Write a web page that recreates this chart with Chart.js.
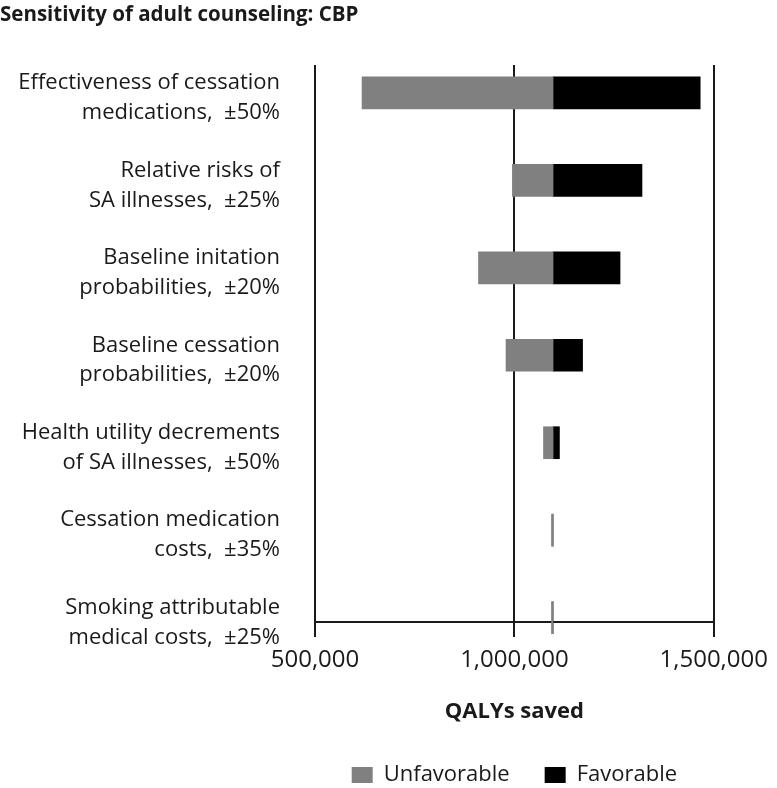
<!DOCTYPE html>
<html>
<head>
<meta charset="utf-8">
<script src="https://cdn.jsdelivr.net/npm/chart.js@4"></script>
<style>
  html, body { margin: 0; padding: 0; background: #fff; }
</style>
</head>
<body>
<canvas id="tornado" width="777" height="788"></canvas>
<script>
// categories, top to bottom
const labels = [
    ["Effectiveness of cessation", "medications,  \u00B150%"],
    ["Relative risks of", "SA illnesses,  \u00B125%"],
    ["Baseline initation", "probabilities,  \u00B120%"],
    ["Baseline cessation", "probabilities,  \u00B120%"],
    ["Health utility decrements", "of SA illnesses,  \u00B150%"],
    ["Cessation medication", "costs,  \u00B135%"],
    ["Smoking attributable", "medical costs,  \u00B125%"]
];

// QALYs saved
const baseValue = 1097000;
const lowValues  = [618000, 995000, 910000, 979000, 1073000, 1093000, 1093000];
const highValues = [1466000, 1320000, 1265000, 1171000, 1113000, 1097000, 1097000];
const xTicks = [500000, 1000000, 1500000];

Chart.defaults.font.family = "'Open Sans', sans-serif";
Chart.defaults.color = "#1a1a1a";

new Chart(document.getElementById("tornado"), {
    type: "bar",
    data: {
        datasets: [{
            label: "Unfavorable",
            data: lowValues.map((v, i) => ({ x: [v, baseValue], y: i })),
            backgroundColor: "#808080",
            borderWidth: 0,
            clip: false
        }, {
            label: "Favorable",
            data: highValues.map((v, i) => ({ x: [baseValue, v], y: i })),
            backgroundColor: "#000000",
            borderWidth: 0,
            clip: false
        }]
    },
    options: {
        indexAxis: "y",
        responsive: false,
        animation: false,
        layout: { padding: { left: 0, right: 63, top: 0, bottom: -8 } },
        datasets: { bar: { grouped: false, barThickness: 32 } },
        scales: {
            x: {
                type: "linear",
                min: xTicks[0],
                max: xTicks[xTicks.length - 1],
                afterBuildTicks: s => { s.ticks = xTicks.map(v => ({ value: v })); },
                ticks: {
                    font: { size: 24 },
                    color: "#1a1a1a",
                    padding: 9,
                    maxRotation: 0,
                    callback: v => v.toLocaleString("en-US")
                },
                grid: { color: "#1a1a1a", lineWidth: 2, tickLength: 15 },
                border: { color: "#1a1a1a", width: 2 },
                title: {
                    display: true,
                    text: "QALYs saved",
                    font: { size: 22, weight: "bold" },
                    color: "#1a1a1a",
                    padding: { top: 14.5, bottom: 4.3 }
                }
            },
            y: {
                type: "linear",
                reverse: true,
                offset: false,
                min: -0.32,
                max: 6.05,
                afterFit: s => { s.width = 315; },
                ticks: {
                    stepSize: 1,
                    includeBounds: false,
                    autoSkip: false,
                    padding: 35,
                    labelOffset: 5,
                    font: { size: 22, lineHeight: 1.36 },
                    color: "#1a1a1a",
                    callback: v => labels[Math.round(v)] || ""
                },
                grid: { display: false, drawTicks: false, offset: false },
                border: { display: false }
            }
        },
        plugins: {
            title: {
                display: true,
                text: "Sensitivity of adult counseling: CBP",
                align: "start",
                color: "#1a1a1a",
                font: { size: 20.5, weight: "bold" },
                padding: { top: 2, bottom: 37.4 }
            },
            legend: {
                position: "bottom",
                fullSize: false,
                labels: {
                    boxWidth: 21,
                    boxHeight: 16,
                    padding: 35,
                    color: "#1a1a1a",
                    font: { size: 22 }
                }
            },
            tooltip: { enabled: false }
        }
    }
});
</script>
</body>
</html>
